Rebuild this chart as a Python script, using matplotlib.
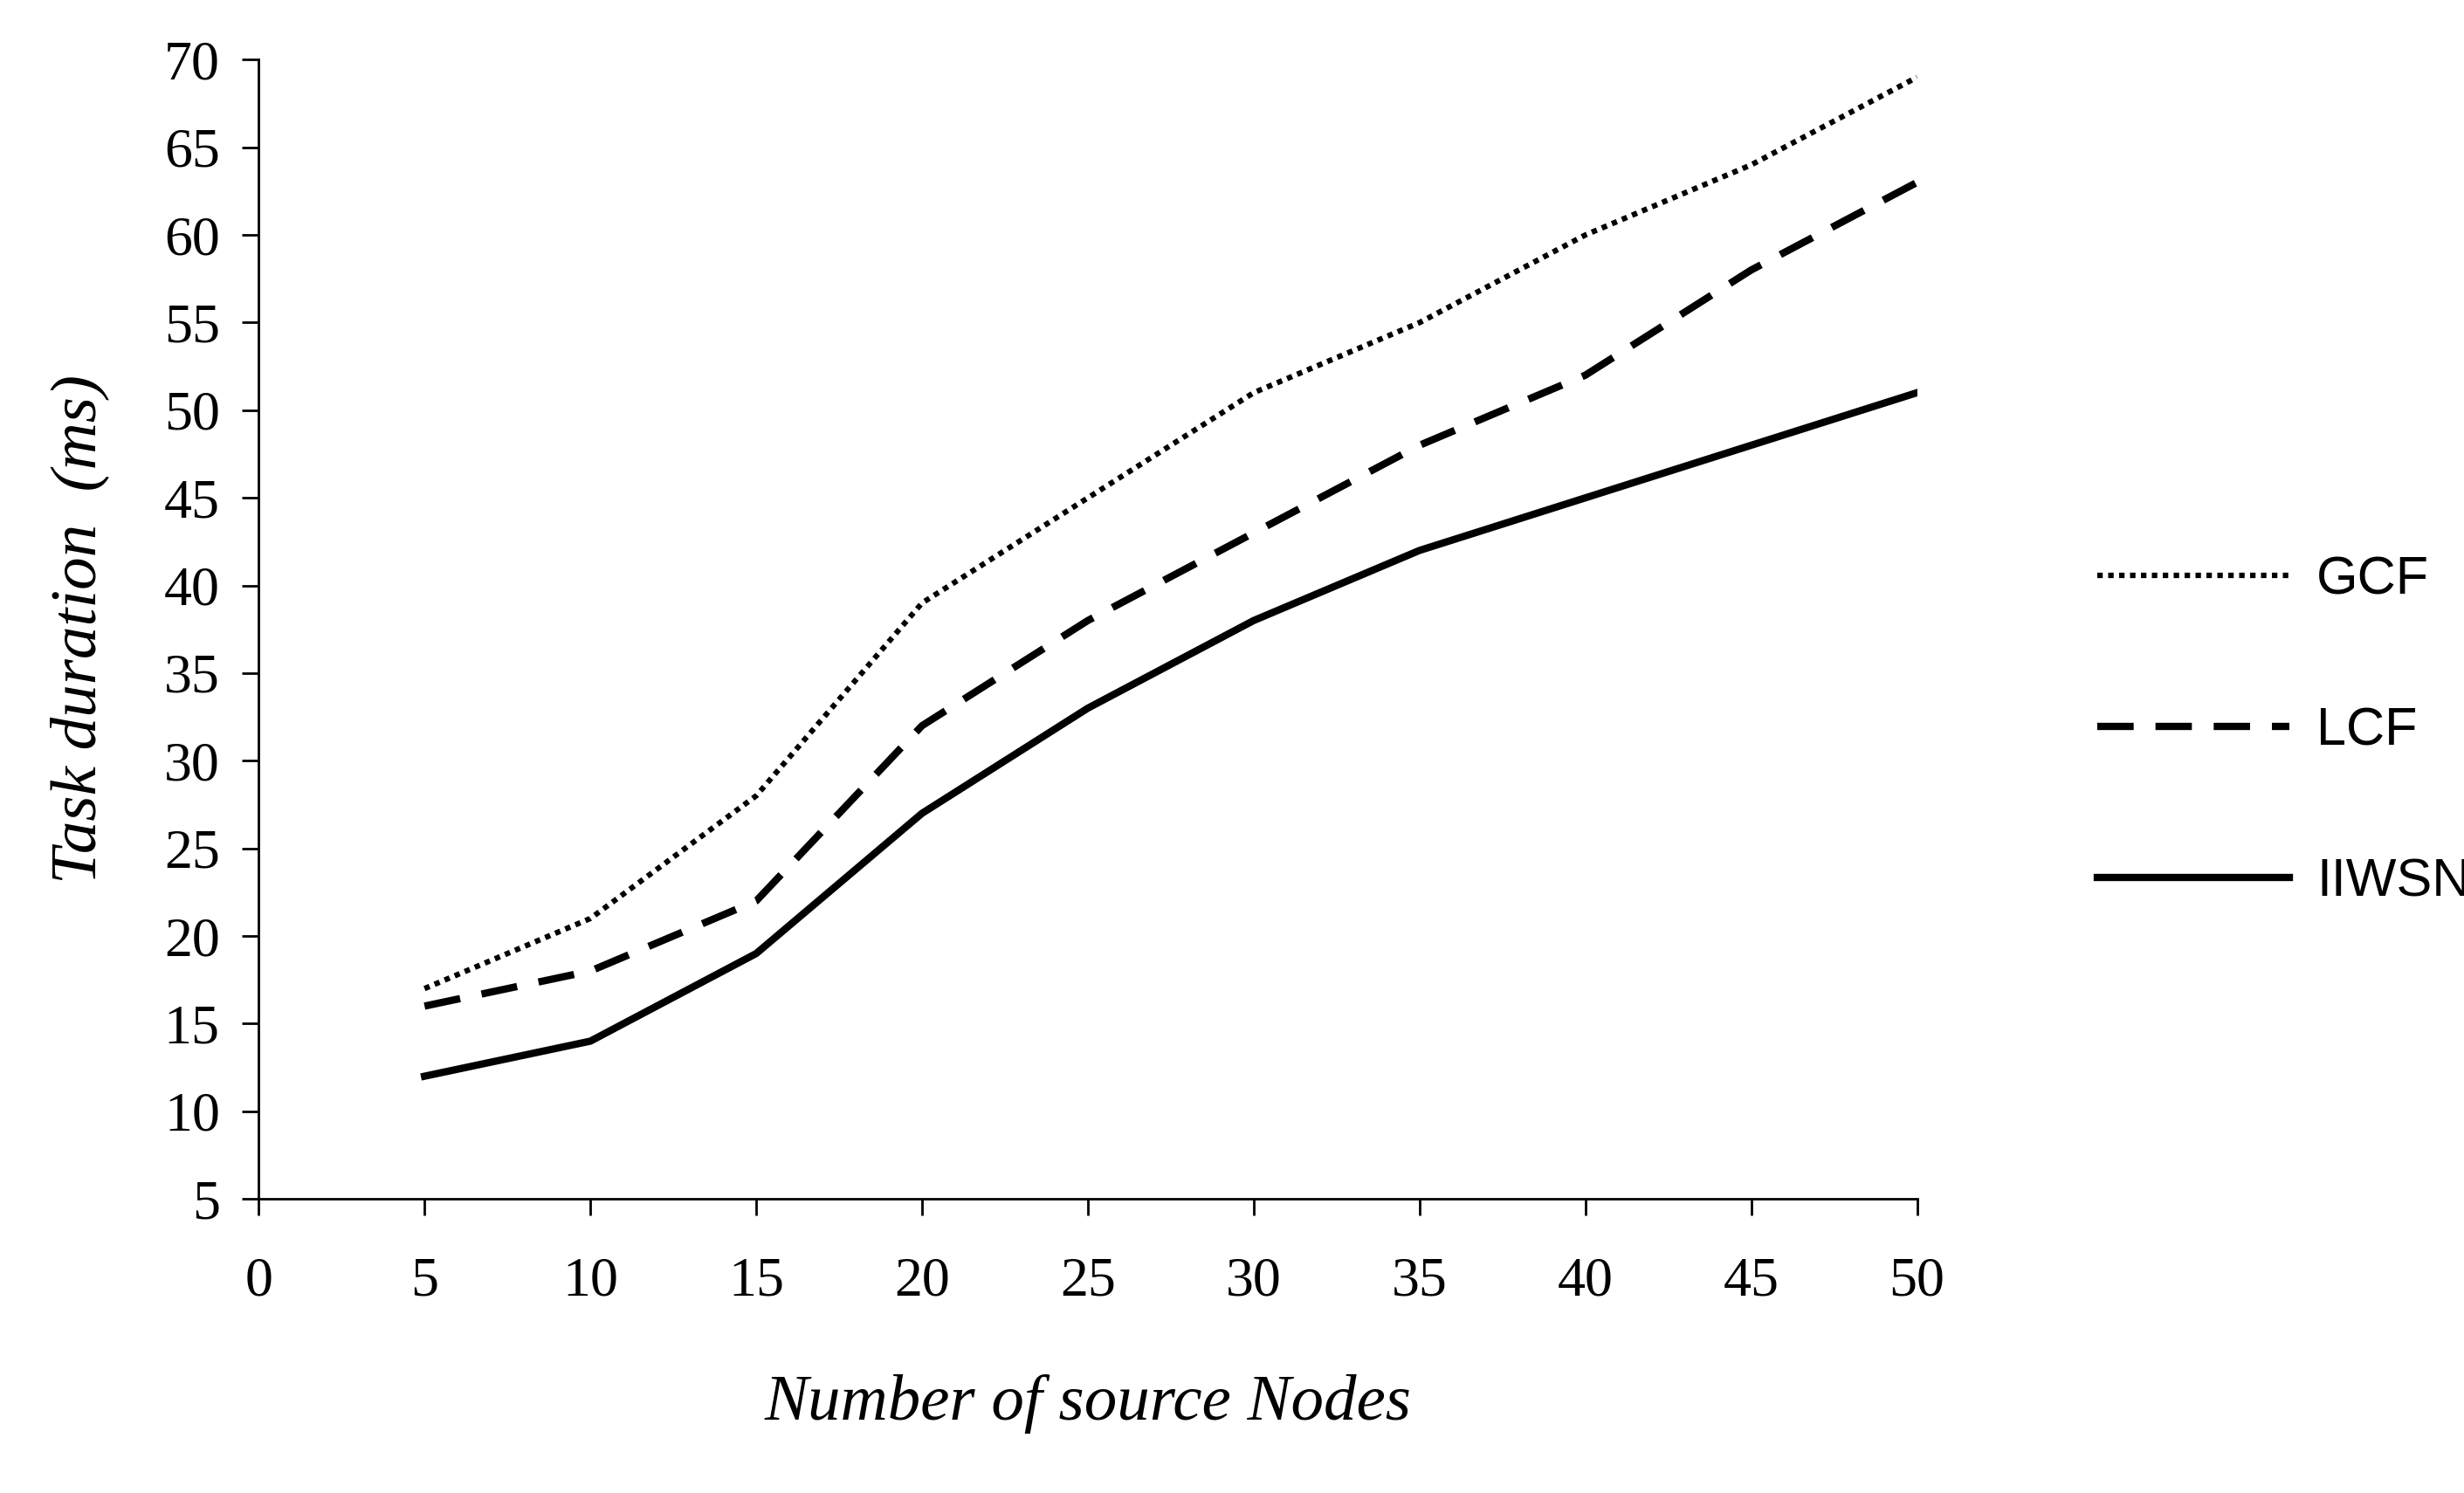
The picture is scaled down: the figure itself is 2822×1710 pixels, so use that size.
import matplotlib
matplotlib.use("Agg")
import matplotlib.pyplot as plt

nodes = [5, 10, 15, 20, 25, 30, 35, 40, 45, 50]
gcf = [17, 21, 28, 39, 45, 51, 55, 60, 64, 69]
lcf = [16, 18, 22, 32, 38, 43, 48, 52, 58, 63]
iiwsn = [12, 14, 19, 27, 33, 38, 42, 45, 48, 51]
xticks = list(range(0, 55, 5))
yticks = list(range(5, 75, 5))

fig = plt.figure(figsize=(28.22, 17.1), dpi=100)
ax = fig.add_axes([0.105, 0.197, 0.673, 0.763])
ax.plot(nodes, gcf, color="black", lw=4.5, ls=(0, (1, 1)), label="GCF")
ax.plot(nodes, lcf, color="black", lw=6, ls=(0, (5, 3)), label="LCF")
ax.plot(nodes, iiwsn, color="black", lw=6, ls="-", label="IIWSN")
ax.set_xlim(0, 50)
ax.set_ylim(5, 70)
ax.set_xticks(xticks)
ax.set_yticks(yticks)
for s in ["top", "right"]:
    ax.spines[s].set_visible(False)
for s in ["left", "bottom"]:
    ax.spines[s].set_linewidth(2)
ax.tick_params(length=14, width=2, labelsize=46)
ax.tick_params(axis="x", pad=34)
ax.tick_params(axis="y", pad=18)
for lab in ax.get_xticklabels() + ax.get_yticklabels():
    lab.set_fontfamily("Liberation Serif")
ax.set_xlabel("Number of source Nodes", fontsize=54, fontstyle="italic",
              family="Liberation Serif", labelpad=55)
ax.set_ylabel("Task duration  (ms)", fontsize=54, fontstyle="italic",
              family="Liberation Serif", labelpad=45)
leg = ax.legend(loc="center left", bbox_to_anchor=(1.08, 0.41), frameon=False,
                prop={"family": "Liberation Sans", "size": 44},
                handlelength=3.6, labelspacing=1.9, handletextpad=0.5)
fig.savefig("out.png", dpi=100, facecolor="white")
